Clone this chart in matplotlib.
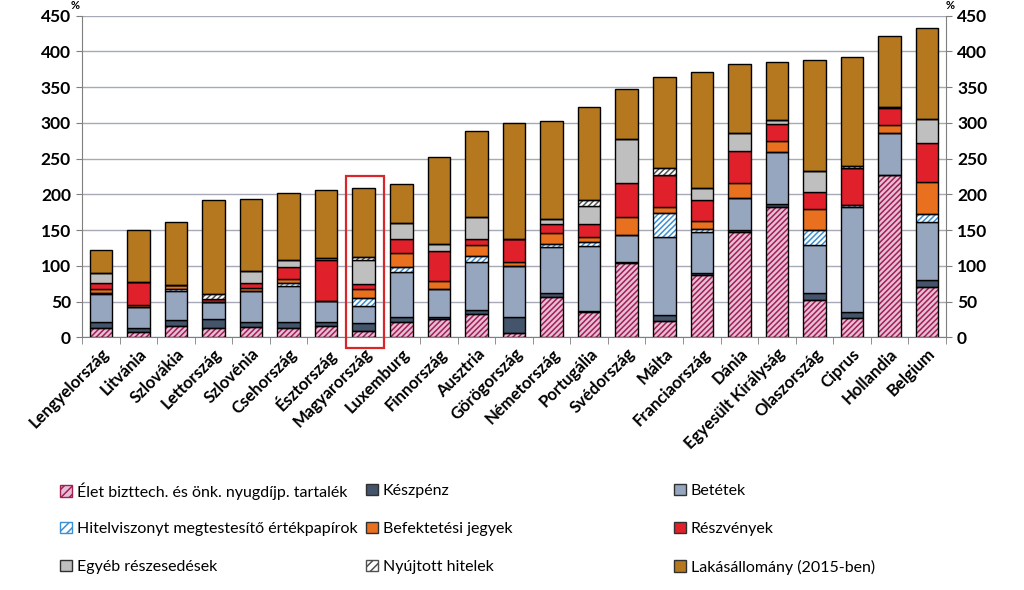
import matplotlib
matplotlib.use('Agg')
import matplotlib.pyplot as plt
import numpy as np
from matplotlib.patches import Patch, Rectangle

plt.rcParams['font.family'] = ['Lato', 'DejaVu Sans']
plt.rcParams['hatch.linewidth'] = 1.1

countries = ['Lengyelország', 'Litvánia', 'Szlovákia', 'Lettország', 'Szlovénia',
             'Csehország', 'Észtország', 'Magyarország', 'Luxemburg', 'Finnország',
             'Ausztria', 'Görögország', 'Németország', 'Portugália', 'Svédország',
             'Málta', 'Franciaország', 'Dánia', 'Egyesült Királyság', 'Olaszország',
             'Ciprus', 'Hollandia', 'Belgium']

elet = [13.5, 8, 16, 13.5, 15, 13.5, 16, 9.3, 21.5, 25, 32.6, 5.6, 56, 36, 103.5,
        23, 86.7, 148, 182, 51.8, 26.6, 227, 70]
keszpenz = [8.5, 4.5, 8, 11.5, 7, 8.5, 5, 11.2, 6.5, 4, 5.4, 23.4, 6, 1, 2.5,
            8, 2.8, 2, 4, 9.8, 8.4, 0, 9.7]
betetek = [39, 29.5, 41, 25, 43, 50, 30, 23.5, 64, 39, 67, 71, 65, 91, 37.6,
           109, 58.5, 45, 73, 68.1, 147, 58.4, 81.3]
hitelpapir = [0.5, 0, 2, 0, 0, 3.5, 0, 11.5, 7, 0, 9, 0, 3, 6, 0,
              33.5, 3, 0, 0, 20.3, 3.6, 0, 12]
befjegy = [6.5, 3, 6, 0, 3.5, 6.5, 0, 11.5, 18.5, 11, 15.6, 6, 16.5, 6, 25.4,
           9.5, 12, 21.4, 15.7, 29, 0, 11.2, 45]
reszveny = [8.5, 32, 0, 3.6, 7, 17, 57, 7, 19.5, 42, 7.9, 31, 12, 18.6, 47,
            44, 28.7, 44.6, 23.3, 25, 50.9, 24.4, 54]
egyeb = [13, 0, 0, 0, 17.5, 9.7, 2.5, 34, 23.4, 9, 30.5, 0, 7, 25.2, 61.5,
         0, 17.7, 25, 6, 29, 0, 1.7, 33.5]
nyujtott = [0, 0, 0, 7, 0, 0, 0, 4, 0, 0, 0, 0, 0, 8.2, 0,
            10.4, 0, 0, 0, 0, 2.5, 0, 0]
lakas = [33, 73.6, 88, 131.4, 100, 92.8, 95.5, 97, 54.1, 122, 120, 163, 137.5, 130.7, 69.5,
         127.3, 161.6, 96, 81.7, 154.6, 152.8, 99.3, 127.5]

series = [
    ('Élet bizttech. és önk. nyugdíjp. tartalék', elet, '#E6BEDA', '#A31F4E', '//////'),
    ('Készpénz', keszpenz, '#44546A', None, None),
    ('Betétek', betetek, '#97A6BF', None, None),
    ('Hitelviszonyt megtestesítő értékpapírok', hitelpapir, '#FFFFFF', '#3C8FD2', '//////'),
    ('Befektetési jegyek', befjegy, '#E8701E', None, None),
    ('Részvények', reszveny, '#E0202A', None, None),
    ('Egyéb részesedések', egyeb, '#BFBFBF', None, None),
    ('Nyújtott hitelek', nyujtott, '#FFFFFF', '#505050', '//////'),
    ('Lakásállomány (2015-ben)', lakas, '#B5781F', None, None),
]

fig = plt.figure(figsize=(10.24, 5.9), dpi=100)
ax = fig.add_axes([82/1024, 1-337.3/590, (946-82)/1024, (337.3-15.7)/590])

x = np.arange(len(countries))
bottom = np.zeros(len(countries))
w = 0.6
handles = []
for label, vals, face, hcol, hatch in series:
    vals = np.array(vals, dtype=float)
    if hatch:
        ax.bar(x, vals, w, bottom=bottom, facecolor=face, edgecolor=hcol,
               hatch=hatch, linewidth=0, zorder=3)
        ax.bar(x, vals, w, bottom=bottom, facecolor='none', edgecolor='black',
               linewidth=1.0, zorder=4)
        handles.append(Patch(facecolor=face, edgecolor=hcol, hatch='////', linewidth=1.0, label=label))
    else:
        ax.bar(x, vals, w, bottom=bottom, facecolor=face, edgecolor='black',
               linewidth=1.0, zorder=3)
        handles.append(Patch(facecolor=face, edgecolor='#303030', linewidth=1.0, label=label))
    bottom += vals

ax.set_xlim(-0.5, len(countries) - 0.5)
ax.set_ylim(0, 450)
ax.set_yticks(np.arange(0, 451, 50))
ax.yaxis.grid(True, color='#A7A9B7', linewidth=1.0, zorder=0)
ax.set_axisbelow(True)
ax.spines['top'].set_visible(False)
for s in ['left', 'right', 'bottom']:
    ax.spines[s].set_color('#7F7F7F')

ax.tick_params(axis='y', left=True, right=True, labelleft=True, labelright=True,
               direction='out', length=4, color='#7F7F7F', labelsize=12.5, pad=4)
for t in ax.get_yticklabels():
    t.set_fontweight('bold')

ax.set_xticks(x)
ax.set_xticklabels(countries, rotation=45, ha='right', rotation_mode='anchor',
                   fontsize=12, fontweight='bold')
ax.tick_params(axis='x', which='major', length=0, pad=6)
ax.set_xticks(np.arange(-0.5, len(countries), 1), minor=True)
ax.tick_params(axis='x', which='minor', length=5, direction='out', color='#7F7F7F')

# highlight Hungary
hu = countries.index('Magyarország')
ax.add_patch(Rectangle((hu - 0.47, -15), 1.0, 241, fill=False, edgecolor='#D9262B',
                       linewidth=1.6, clip_on=False, zorder=6))

fig.text(75/1024, 1.0, '%', fontsize=8, fontweight='bold', ha='center', va='top')
fig.text(950/1024, 1.0, '%', fontsize=8, fontweight='bold', ha='center', va='top')

col_x = [60, 366, 674]
row_y = [491, 529, 567]
for i, h in enumerate(handles):
    r, c = divmod(i, 3)
    fig.legend(handles=[h], loc='center left',
               bbox_to_anchor=(col_x[c]/1024, 1-row_y[r]/590),
               frameon=False, fontsize=11.5, handlelength=0.75, handleheight=0.75,
               handletextpad=0.3, borderpad=0, borderaxespad=0)

fig.savefig('out.png', dpi=100)
